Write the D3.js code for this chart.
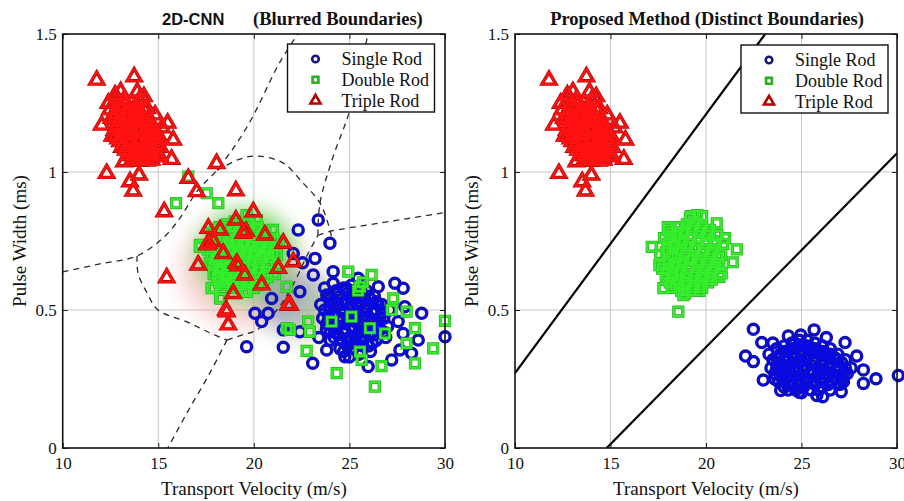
<!DOCTYPE html>
<html>
<head>
<meta charset="utf-8">
<script src="https://cdn.jsdelivr.net/npm/d3@7"></script>
<style>
body { margin: 0; background: #fff; }
svg { display: block; }
</style>
</head>
<body>
<div id="chart"></div>
<script>
// ---- axis ticks ----
var xTicks = [10, 15, 20, 25, 30];
var yTicks = [0, 0.5, 1, 1.5];
var seriesNames = ["Single Rod", "Double Rod", "Triple Rod"];

// ---- triple rod, main cluster (same in both panels) ----
var redCore = [
	[11.78,1.333],[13.74,1.345],[13.03,1.291],[12.74,1.279],[14.25,1.273],[12.39,1.249],[13.26,1.243],
	[14.39,1.231],[14.83,1.207],[12.47,1.225],[12.56,1.195],[12.04,1.170],[15.49,1.177],[15.78,1.116],
	[15.70,1.046],[15.09,1.055],[13.21,1.037],[12.30,0.995],[13.52,0.965],[14.00,0.989],[13.69,0.931],
	[14.22,1.043],[14.65,1.043],
	[13.0,1.20],[13.4,1.22],[13.8,1.21],[14.2,1.20],[14.6,1.18],[12.8,1.16],[13.2,1.17],[13.6,1.18],
	[14.0,1.16],[14.4,1.15],[14.8,1.14],[12.9,1.12],[13.3,1.13],[13.7,1.14],[14.1,1.12],[14.5,1.11],
	[14.9,1.10],[13.1,1.09],[13.5,1.10],[13.9,1.08],[14.3,1.08],[14.7,1.07],[13.4,1.06],[13.8,1.05],
	[14.2,1.05],[12.7,1.19],[13.6,1.25],[14.0,1.26],[13.2,1.26],[14.4,1.23],[15.1,1.12],[15.2,1.16],
	[12.6,1.13],[13.9,1.29],[14.6,1.06],[15.0,1.06],
	[12.9,1.24],[13.5,1.23],[13.9,1.23],[14.3,1.22],[12.8,1.21],[13.1,1.19],[13.5,1.20],[13.9,1.19],
	[14.3,1.18],[14.7,1.16],[12.7,1.15],[13.0,1.15],[13.4,1.15],[13.8,1.16],[14.2,1.14],[14.6,1.13],
	[15.0,1.13],[13.0,1.11],[13.5,1.12],[13.9,1.11],[14.3,1.10],[14.7,1.09],[15.1,1.09],[13.3,1.08],
	[13.7,1.07],[14.1,1.07],[14.5,1.07],[13.6,1.04],[14.0,1.04],[14.4,1.04],
	[13.1,1.23],[13.7,1.22],[14.1,1.21],[12.9,1.18],[13.3,1.19],[13.7,1.19],[14.1,1.18],[14.5,1.17],
	[12.8,1.13],[13.2,1.14],[13.6,1.15],[14.0,1.14],[14.4,1.13],[14.8,1.12],[13.2,1.10],[13.6,1.11],
	[14.0,1.10],[14.4,1.09],[14.8,1.08],[13.5,1.07],[13.9,1.06],[14.3,1.06]
];

// ---- 2D-CNN panel ----
var redStrayCnn = [
	[18.05,1.031],[16.57,0.977],[17.01,0.929],[19.06,0.932],[15.31,0.856],[19.97,0.856],[15.44,0.617],
	[17.09,0.663],[18.58,0.494],[18.66,0.446],[21.28,0.651],[22.06,0.675],[21.54,0.742],[21.89,0.518],
	[17.62,0.742],[17.88,0.748],[19.45,0.778],[20.58,0.772],[19.10,0.669],[18.40,0.705],[17.62,0.796],
	[18.23,0.790],[19.06,0.826],[19.59,0.784],[17.56,0.736],[19.18,0.660],[19.53,0.627],[20.41,0.591],
	[18.92,0.560],[18.54,0.500],[21.80,0.518]
];
var greenCnn = [
	[17.8,0.78],[18.2,0.80],[18.6,0.81],[19.0,0.82],[19.4,0.80],[19.8,0.81],[20.2,0.80],[20.6,0.78],
	[17.6,0.72],[18.0,0.74],[18.4,0.76],[18.8,0.77],[19.2,0.76],[19.6,0.77],[20.0,0.75],[20.4,0.74],
	[20.8,0.73],[21.2,0.70],[17.7,0.67],[18.1,0.69],[18.5,0.71],[18.9,0.72],[19.3,0.71],[19.7,0.70],
	[20.1,0.71],[20.5,0.69],[20.9,0.67],[17.9,0.63],[18.3,0.65],[18.7,0.66],[19.1,0.67],[19.5,0.66],
	[19.9,0.65],[20.3,0.64],[20.7,0.62],[21.1,0.63],[18.2,0.60],[18.6,0.61],[19.0,0.62],[19.4,0.61],
	[19.8,0.60],[20.2,0.59],[18.9,0.58],[19.5,0.57],[17.9,0.58],[21.3,0.75],[21.0,0.79],
	[18.0,0.77],[18.4,0.79],[18.8,0.79],[19.2,0.79],[19.6,0.79],[20.0,0.78],[20.4,0.77],[17.8,0.70],
	[18.2,0.72],[18.6,0.74],[19.0,0.74],[19.4,0.74],[19.8,0.73],[20.2,0.73],[20.6,0.71],[21.0,0.71],
	[17.9,0.66],[18.3,0.68],[18.7,0.69],[19.1,0.70],[19.5,0.69],[19.9,0.68],[20.3,0.67],[20.7,0.66],
	[18.1,0.62],[18.5,0.63],[18.9,0.64],[19.3,0.64],[19.7,0.63],[20.1,0.62],[20.5,0.61],[18.4,0.59],
	[18.8,0.60],[19.2,0.59],[19.6,0.59],[20.0,0.58],
	[18.1,0.79],[18.5,0.80],[18.9,0.80],[19.3,0.81],[19.7,0.80],[20.1,0.79],[20.5,0.76],[17.9,0.73],
	[18.3,0.75],[18.7,0.75],[19.1,0.75],[19.5,0.75],[19.9,0.74],[20.3,0.72],[20.7,0.72],[18.0,0.68],
	[18.4,0.70],[18.8,0.71],[19.2,0.72],[19.6,0.71],[20.0,0.70],[20.4,0.70],[20.8,0.69],[18.2,0.64],
	[18.6,0.65],[19.0,0.66],[19.4,0.65],[19.8,0.66],[20.2,0.65],[20.6,0.64],[18.5,0.60],[18.9,0.61],
	[19.3,0.60],[19.7,0.61],[20.1,0.60],
	[16.57,0.983],[15.93,0.887],[17.53,0.923],[18.14,0.887],[19.62,0.844],[20.15,0.826],[17.18,0.729],
	[18.32,0.542],[19.62,0.566],[21.01,0.760],[21.72,0.584],[21.89,0.428],[22.76,0.352],[24.33,0.271],
	[24.94,0.639],[24.07,0.458],[25.11,0.476],[22.93,0.421],[21.72,0.434],[26.16,0.627],[27.29,0.542],
	[27.99,0.494],[27.21,0.500],[28.43,0.434],[27.99,0.379],[28.43,0.307],[29.38,0.361],[30.00,0.461],
	[26.68,0.297],[25.64,0.319],[26.33,0.222],[26.07,0.434],[26.86,0.415],[25.55,0.349],[25.55,0.584],
	[25.70,0.600],[25.45,0.570],[22.84,0.458],[18.23,0.542],[17.79,0.579],[17.18,0.736]
];
var blueCnn = [
	[23.5,0.52],[23.9,0.55],[24.3,0.57],[24.7,0.58],[25.1,0.59],[25.5,0.58],[25.9,0.57],[26.3,0.55],
	[26.7,0.52],[23.6,0.47],[24.0,0.50],[24.4,0.52],[24.8,0.53],[25.2,0.54],[25.6,0.53],[26.0,0.52],
	[26.4,0.50],[26.8,0.47],[23.8,0.43],[24.2,0.45],[24.6,0.47],[25.0,0.48],[25.4,0.49],[25.8,0.47],
	[26.2,0.46],[26.6,0.43],[27.0,0.44],[24.0,0.39],[24.4,0.41],[24.8,0.42],[25.2,0.43],[25.6,0.42],
	[26.0,0.41],[26.4,0.39],[24.5,0.36],[24.9,0.37],[25.3,0.38],[25.7,0.37],[26.1,0.35],[23.4,0.40],
	[25.0,0.33],[25.5,0.34],[26.9,0.40],[23.7,0.58],[27.1,0.50],
	[23.7,0.50],[24.1,0.53],[24.5,0.55],[24.9,0.56],[25.3,0.56],[25.7,0.55],[26.1,0.54],[26.5,0.52],
	[23.8,0.45],[24.2,0.48],[24.6,0.50],[25.0,0.51],[25.4,0.51],[25.8,0.50],[26.2,0.49],[26.6,0.47],
	[24.0,0.42],[24.4,0.44],[24.8,0.45],[25.2,0.46],[25.6,0.45],[26.0,0.44],[26.4,0.43],[26.8,0.42],
	[24.2,0.40],[24.6,0.39],[25.0,0.40],[25.4,0.41],[25.8,0.40],[26.2,0.38],[24.7,0.35],[25.2,0.36],
	[25.6,0.35],
	[24.0,0.54],[24.4,0.56],[24.8,0.57],[25.2,0.57],[25.6,0.57],[26.0,0.55],[26.4,0.53],[23.9,0.48],
	[24.3,0.51],[24.7,0.52],[25.1,0.52],[25.5,0.52],[25.9,0.51],[26.3,0.50],[26.7,0.49],[24.1,0.44],
	[24.5,0.46],[24.9,0.47],[25.3,0.47],[25.7,0.46],[26.1,0.45],[26.5,0.45],[24.3,0.42],[24.7,0.43],
	[25.1,0.44],[25.5,0.44],[25.9,0.43],[26.3,0.41],[24.9,0.39],[25.3,0.40],[25.7,0.39],[26.0,0.37],
	[23.37,0.826],[22.32,0.790],[23.98,0.742],[23.20,0.687],[22.06,0.705],[22.55,0.671],[23.11,0.627],
	[22.41,0.566],[20.93,0.542],[20.06,0.488],[20.41,0.458],[20.75,0.488],[19.62,0.367],[21.54,0.428],
	[21.54,0.365],[22.41,0.421],[23.08,0.307],[24.15,0.639],[24.85,0.579],[23.81,0.554],[27.38,0.597],
	[27.81,0.579],[27.90,0.512],[28.78,0.488],[27.55,0.458],[27.81,0.415],[28.60,0.391],[27.64,0.355],
	[28.25,0.343],[27.21,0.319],[25.98,0.295],[24.76,0.331],[23.81,0.355],[30.00,0.403],[26.51,0.584],
	[25.46,0.615],[24.15,0.597]
];
// dashed decision boundaries of the 2D-CNN
var cnnBoundaries = [
	[[10,0.638],[11.95,0.667],[13.89,0.696],[15.25,0.761],[16.13,0.833],[17.08,0.935],[18.07,1.007],[19.64,1.163],[21.37,1.399],[22.31,1.5]],
	[[13.89,0.696],[13.94,0.634],[14.41,0.562],[14.99,0.500],[16.50,0.457],[17.70,0.417],[18.59,0.391]],
	[[18.59,0.391],[17.70,0.272],[16.50,0.127],[15.50,0]],
	[[18.59,0.391],[19.40,0.410],[20.16,0.428],[21.20,0.500],[22.04,0.590],[22.80,0.700],[23.35,0.770]],
	[[23.35,0.770],[23.46,0.888],[24.14,1.054],[25.03,1.225],[25.97,1.5]],
	[[23.35,0.770],[24.00,0.785],[26.59,0.815],[30,0.853]],
	[[18.07,1.007],[18.38,1.018],[19.27,1.047],[20.16,1.058],[21.52,1.033],[22.57,0.960],[23.46,0.888],[23.98,0.790],[24.10,0.750]]
];

// ---- proposed method panel ----
var greenProp = [
	[17.8,0.76],[18.2,0.78],[18.6,0.80],[19.0,0.81],[19.4,0.82],[19.8,0.80],[20.2,0.79],[20.6,0.77],
	[17.6,0.70],[18.0,0.72],[18.4,0.74],[18.8,0.75],[19.2,0.76],[19.6,0.75],[20.0,0.74],[20.4,0.72],
	[20.8,0.70],[17.7,0.65],[18.1,0.67],[18.5,0.69],[18.9,0.70],[19.3,0.69],[19.7,0.68],[20.1,0.67],
	[20.5,0.66],[17.9,0.61],[18.3,0.63],[18.7,0.64],[19.1,0.65],[19.5,0.64],[19.9,0.62],[20.3,0.61],
	[18.2,0.58],[18.6,0.59],[19.0,0.60],[19.4,0.59],[19.8,0.58],[18.9,0.56],[20.7,0.62],[20.9,0.74],
	[18.0,0.80],[19.2,0.84],[19.8,0.84],
	[18.0,0.74],[18.4,0.77],[18.8,0.78],[19.2,0.79],[19.6,0.78],[20.0,0.77],[20.4,0.75],[17.8,0.67],
	[18.2,0.70],[18.6,0.72],[19.0,0.73],[19.4,0.72],[19.8,0.71],[20.2,0.70],[20.6,0.69],[17.9,0.63],
	[18.3,0.66],[18.7,0.67],[19.1,0.68],[19.5,0.67],[19.9,0.65],[20.3,0.64],[18.1,0.60],[18.5,0.61],
	[18.9,0.62],[19.3,0.62],[19.7,0.61],[20.1,0.60],[18.7,0.57],[19.2,0.57],
	[18.1,0.76],[18.5,0.78],[18.9,0.79],[19.3,0.80],[19.7,0.79],[20.1,0.78],[20.5,0.74],[17.9,0.71],
	[18.3,0.73],[18.7,0.74],[19.1,0.74],[19.5,0.73],[19.9,0.72],[20.3,0.71],[20.7,0.67],[18.0,0.65],
	[18.4,0.67],[18.8,0.68],[19.2,0.68],[19.6,0.67],[20.0,0.66],[20.4,0.65],[18.2,0.62],[18.6,0.63],
	[19.0,0.63],[19.4,0.63],[19.8,0.63],[20.2,0.62],[18.4,0.59],[18.8,0.59],[19.3,0.58],[19.7,0.59],
	[19.54,0.844],[19.16,0.832],[18.03,0.790],[20.56,0.814],[17.16,0.729],[21.61,0.720],[21.40,0.673],
	[17.56,0.663],[17.77,0.579],[18.82,0.554],[19.66,0.569],[20.82,0.633],[18.55,0.494],[21.00,0.760]
];
var blueProp = [
	[23.3,0.34],[23.7,0.36],[24.1,0.37],[24.5,0.38],[24.9,0.39],[25.3,0.39],[25.7,0.38],[26.1,0.37],
	[26.5,0.36],[26.9,0.34],[27.3,0.32],[23.4,0.29],[23.8,0.31],[24.2,0.32],[24.6,0.33],[25.0,0.34],
	[25.4,0.34],[25.8,0.33],[26.2,0.32],[26.6,0.31],[27.0,0.29],[27.4,0.27],[23.6,0.25],[24.0,0.27],
	[24.4,0.28],[24.8,0.29],[25.2,0.29],[25.6,0.28],[26.0,0.27],[26.4,0.26],[26.8,0.25],[27.2,0.24],
	[24.1,0.22],[24.5,0.23],[24.9,0.24],[25.3,0.24],[25.7,0.23],[26.1,0.22],[26.5,0.21],[25.0,0.20],
	[25.8,0.19],[23.5,0.38],[27.6,0.29],[26.3,0.40],[24.3,0.35],
	[23.5,0.32],[23.9,0.34],[24.3,0.35],[24.7,0.36],[25.1,0.37],[25.5,0.36],[25.9,0.35],[26.3,0.34],
	[26.7,0.33],[27.1,0.31],[23.6,0.27],[24.0,0.29],[24.4,0.30],[24.8,0.31],[25.2,0.32],[25.6,0.31],
	[26.0,0.30],[26.4,0.29],[26.8,0.28],[27.2,0.27],[23.8,0.24],[24.2,0.25],[24.6,0.26],[25.0,0.26],
	[25.4,0.27],[25.8,0.26],[26.2,0.25],[26.6,0.24],[27.0,0.23],[24.3,0.21],[24.7,0.21],[25.1,0.22],
	[25.5,0.21],[25.9,0.21],
	[23.7,0.33],[24.1,0.35],[24.5,0.36],[24.9,0.37],[25.3,0.37],[25.7,0.36],[26.1,0.35],[26.5,0.34],
	[26.9,0.32],[23.7,0.29],[24.1,0.30],[24.5,0.31],[24.9,0.32],[25.3,0.33],[25.7,0.32],[26.1,0.31],
	[26.5,0.30],[26.9,0.30],[27.3,0.29],[23.9,0.26],[24.3,0.27],[24.7,0.28],[25.1,0.28],[25.5,0.28],
	[25.9,0.28],[26.3,0.27],[26.7,0.26],[27.1,0.25],[24.4,0.24],[24.8,0.24],[25.2,0.25],[25.6,0.24],
	[26.0,0.24],[26.4,0.23],
	[22.48,0.430],[22.07,0.333],[22.48,0.313],[22.92,0.382],[23.00,0.246],[23.91,0.208],[24.31,0.406],
	[24.96,0.409],[25.66,0.428],[27.28,0.382],[27.89,0.333],[28.24,0.283],[28.24,0.234],[28.90,0.251],
	[30.07,0.263],[26.11,0.186],[24.88,0.202],[27.08,0.204]
];
// solid decision boundaries of the proposed method
var propBoundaries = [
	[[10,0.271],[23.1,1.5]],
	[[14.8,0],[30,1.068]]
];

// ---- drawing ----
var W = 904, H = 501;
var svg = d3.select("#chart").append("svg").attr("width", W).attr("height", H)
	.style("font-family", "'Liberation Serif', 'Times New Roman', serif");
var defs = svg.append("defs");
defs.append("filter").attr("id", "glow").attr("x", "-60%").attr("y", "-60%").attr("width", "220%").attr("height", "220%")
	.append("feGaussianBlur").attr("stdDeviation", 11);

var styles = {
	circle: { outer: "#16167e", inner: "#0a0ae6", symbol: d3.symbolCircle, size: 80 },
	square: { outer: "#2aae22", inner: "#35ee2c", symbol: d3.symbolSquare, size: 78 },
	tri:    { outer: "#b60000", inner: "#ff1212", symbol: d3.symbolTriangle, size: 84 }
};

function drawMarkers(layer, pts, kind, x, y) {
	var st = styles[kind];
	var path = d3.symbol().type(st.symbol).size(st.size)();
	var g = layer.append("g");
	g.selectAll("path.o").data(pts).join("path").attr("class", "o")
		.attr("d", path)
		.attr("transform", function(d) { return "translate(" + x(d[0]) + "," + y(d[1]) + ")"; })
		.attr("fill", "none").attr("stroke", st.outer).attr("stroke-width", 3.4);
	g.selectAll("path.i").data(pts).join("path").attr("class", "i")
		.attr("d", path)
		.attr("transform", function(d) { return "translate(" + x(d[0]) + "," + y(d[1]) + ")"; })
		.attr("fill", "none").attr("stroke", st.inner).attr("stroke-width", 2);
}

function drawPanel(p) {
	var x = d3.scaleLinear().domain([10, 30]).range([p.left, p.right]);
	var y = d3.scaleLinear().domain([0, 1.5]).range([448, 34]);
	var g = svg.append("g");
	var clipId = "clip" + p.id;
	defs.append("clipPath").attr("id", clipId).append("rect")
		.attr("x", x(10)).attr("y", y(1.5)).attr("width", x(30) - x(10)).attr("height", y(0) - y(1.5));

	// grid
	g.append("g").selectAll("line").data(xTicks.slice(1, -1)).join("line")
		.attr("x1", function(d) { return x(d); }).attr("x2", function(d) { return x(d); })
		.attr("y1", y(0)).attr("y2", y(1.5)).attr("stroke", "#c6c6c6").attr("stroke-width", 1);
	g.append("g").selectAll("line").data(yTicks.slice(1, -1)).join("line")
		.attr("y1", function(d) { return y(d); }).attr("y2", function(d) { return y(d); })
		.attr("x1", x(10)).attr("x2", x(30)).attr("stroke", "#c6c6c6").attr("stroke-width", 1);

	// blurred halos (2D-CNN only)
	if (p.glows) {
		g.append("g").attr("clip-path", "url(#" + clipId + ")").selectAll("ellipse").data(p.glows).join("ellipse")
			.attr("cx", function(d) { return x(d.cx); }).attr("cy", function(d) { return y(d.cy); })
			.attr("rx", function(d) { return d.rx; }).attr("ry", function(d) { return d.ry; })
			.attr("fill", function(d) { return d.color; }).attr("opacity", function(d) { return d.op; })
			.attr("filter", "url(#glow)");
	}

	// boundaries
	var line = d3.line().x(function(d) { return x(d[0]); }).y(function(d) { return y(d[1]); })
		.curve(p.dashed ? d3.curveCatmullRom.alpha(0.5) : d3.curveLinear);
	g.append("g").attr("clip-path", "url(#" + clipId + ")").selectAll("path").data(p.boundaries).join("path")
		.attr("d", line).attr("fill", "none")
		.attr("stroke", p.dashed ? "#2a2a2a" : "#000")
		.attr("stroke-width", p.dashed ? 1.3 : 2.2)
		.attr("stroke-dasharray", p.dashed ? "6,5" : null);

	// markers
	var mk = g.append("g");
	drawMarkers(mk, p.blue, "circle", x, y);
	drawMarkers(mk, p.green, "square", x, y);
	drawMarkers(mk, p.red, "tri", x, y);

	// axes
	var fmt = function(d) { return String(d); };
	g.append("g").attr("transform", "translate(0," + y(0) + ")")
		.call(d3.axisBottom(x).tickValues(xTicks).tickSize(-5).tickPadding(9).tickFormat(fmt));
	g.append("g").attr("transform", "translate(" + x(10) + ",0)")
		.call(d3.axisLeft(y).tickValues(yTicks).tickSize(-5).tickPadding(6).tickFormat(fmt));
	g.append("g").attr("transform", "translate(0," + y(1.5) + ")")
		.call(d3.axisTop(x).tickValues(xTicks).tickSize(-5).tickFormat(""));
	g.append("g").attr("transform", "translate(" + x(30) + ",0)")
		.call(d3.axisRight(y).tickValues(yTicks).tickSize(-5).tickFormat(""));
	g.selectAll(".domain").remove();
	g.selectAll(".tick line").attr("stroke", "#222");
	g.selectAll(".tick text").attr("font-family", "'Liberation Serif', serif").attr("font-size", 17).attr("fill", "#111");

	// box
	g.append("rect").attr("x", x(10)).attr("y", y(1.5)).attr("width", x(30) - x(10)).attr("height", y(0) - y(1.5))
		.attr("fill", "none").attr("stroke", "#111").attr("stroke-width", 1.6);

	// labels
	g.append("text").attr("x", (x(10) + x(30)) / 2).attr("y", 495).attr("text-anchor", "middle")
		.attr("font-size", 19).attr("fill", "#111").text("Transport Velocity (m/s)");
	g.append("text").attr("transform", "translate(" + (x(10) - 37) + "," + y(0.75) + ") rotate(-90)")
		.attr("text-anchor", "middle").attr("font-size", 19).attr("fill", "#111").text("Pulse Width (ms)");

	// legend
	var lg = g.append("g").attr("transform", "translate(" + p.legend[0] + "," + p.legend[1] + ")");
	lg.append("rect").attr("width", 147).attr("height", 68).attr("fill", "#fff").attr("stroke", "#111").attr("stroke-width", 1.4);
	var kinds = ["circle", "square", "tri"];
	kinds.forEach(function(k, i) {
		var st = styles[k];
		var cy = 15 + i * 20.8;
		var sym = d3.symbol().type(st.symbol).size(k === "tri" ? 44 : 34)();
		lg.append("path").attr("d", sym).attr("transform", "translate(28," + cy + ")")
			.attr("fill", "none").attr("stroke", st.outer).attr("stroke-width", 2.6);
		lg.append("text").attr("x", 54).attr("y", cy + 6).attr("font-size", 18).attr("fill", "#111").text(seriesNames[i]);
	});
	return g;
}

var cnn = drawPanel({
	id: "a", left: 62.7, right: 445, dashed: true,
	boundaries: cnnBoundaries,
	blue: blueCnn, green: greenCnn, red: redCore.concat(redStrayCnn),
	legend: [287.5, 44],
	glows: [
		{ cx: 19.4, cy: 0.64, rx: 62, ry: 56, color: "#f29a9a", op: 0.45 },
		{ cx: 19.6, cy: 0.70, rx: 46, ry: 44, color: "#38dd38", op: 0.75 },
		{ cx: 22.4, cy: 0.52, rx: 38, ry: 30, color: "#587896", op: 0.55 },
		{ cx: 25.3, cy: 0.47, rx: 60, ry: 40, color: "#fff36a", op: 0.25 }
	]
});
var prop = drawPanel({
	id: "b", left: 515, right: 897, dashed: false,
	boundaries: propBoundaries,
	blue: blueProp, green: greenProp, red: redCore,
	legend: [741, 45]
});

// titles
svg.append("text").attr("x", 162).attr("y", 25).attr("font-family", "'Liberation Sans', Arial, sans-serif")
	.attr("font-weight", "bold").attr("font-size", 16.5).attr("fill", "#111").text("2D-CNN");
svg.append("text").attr("x", 253).attr("y", 25)
	.attr("font-weight", "bold").attr("font-size", 18.5).attr("fill", "#111").text("(Blurred Boundaries)");
svg.append("text").attr("x", 707).attr("y", 25).attr("text-anchor", "middle")
	.attr("font-weight", "bold").attr("font-size", 18.5).attr("fill", "#111").text("Proposed Method (Distinct Boundaries)");
</script>
</body>
</html>
